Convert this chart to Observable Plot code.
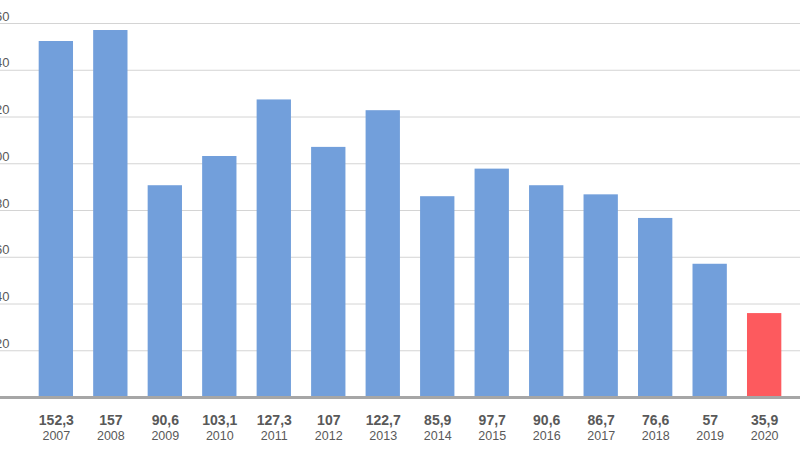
<!DOCTYPE html>
<html>
<head>
<meta charset="utf-8">
<script src="https://cdn.jsdelivr.net/npm/d3@7"></script>
<script src="https://cdn.jsdelivr.net/npm/@observablehq/plot@0.6"></script>
<style>
  html, body { margin: 0; padding: 0; background: #fff; overflow: hidden; width: 800px; height: 450px; }
  #chart { position: absolute; left: 0; top: 0; width: 820px; }
  #chart svg { max-width: none !important; }
</style>
</head>
<body>
<div id="chart"></div>
<script>
const years = ["2007","2008","2009","2010","2011","2012","2013","2014","2015","2016","2017","2018","2019","2020"];
const values = [152.3, 157, 90.6, 103.1, 127.3, 107, 122.7, 85.9, 97.7, 90.6, 86.7, 76.6, 57, 35.9];
const labels = ["152,3","157","90,6","103,1","127,3","107","122,7","85,9","97,7","90,6","86,7","76,6","57","35,9"];
const yTicks = [0, 20, 40, 60, 80, 100, 120, 140, 160];

const data = years.map((y, i) => ({year: y, value: values[i], label: labels[i], highlight: y === "2020"}));

const chart = Plot.plot({
  width: 820,
  height: 450,
  marginLeft: 0,
  marginRight: 0,
  marginTop: 23,
  marginBottom: 53,
  style: {fontFamily: "'Liberation Sans', Arial, sans-serif", background: "#fff", overflow: "hidden", maxWidth: "none"},
  x: {domain: years, paddingInner: 0.37, paddingOuter: 0.71, round: false, axis: null},
  y: {domain: [0, 160], ticks: yTicks, axis: null},
  marks: [
    Plot.gridY(yTicks.filter(d => d > 0), {stroke: "#d4d4d4", strokeOpacity: 1, strokeWidth: 1}),
    Plot.text(yTicks.filter(d => d > 0), {y: d => d, frameAnchor: "left", dx: 9, dy: -7, text: d => String(d), textAnchor: "end", fill: "#595959", fontSize: 13}),
    Plot.barY(data, {x: "year", y: "value", fill: d => d.highlight ? "#fd5a5e" : "#729fdb"}),
    Plot.ruleY([0], {stroke: "#a6a6a6", strokeWidth: 3}),
    Plot.text(data, {x: "year", y: 0, text: "label", dy: 23, fill: "#595959", fontSize: 14, fontWeight: "bold"}),
    Plot.text(data, {x: "year", y: 0, text: "year", dy: 38, fill: "#595959", fontSize: 12.5})
  ]
});
document.getElementById("chart").appendChild(chart);
</script>
</body>
</html>
